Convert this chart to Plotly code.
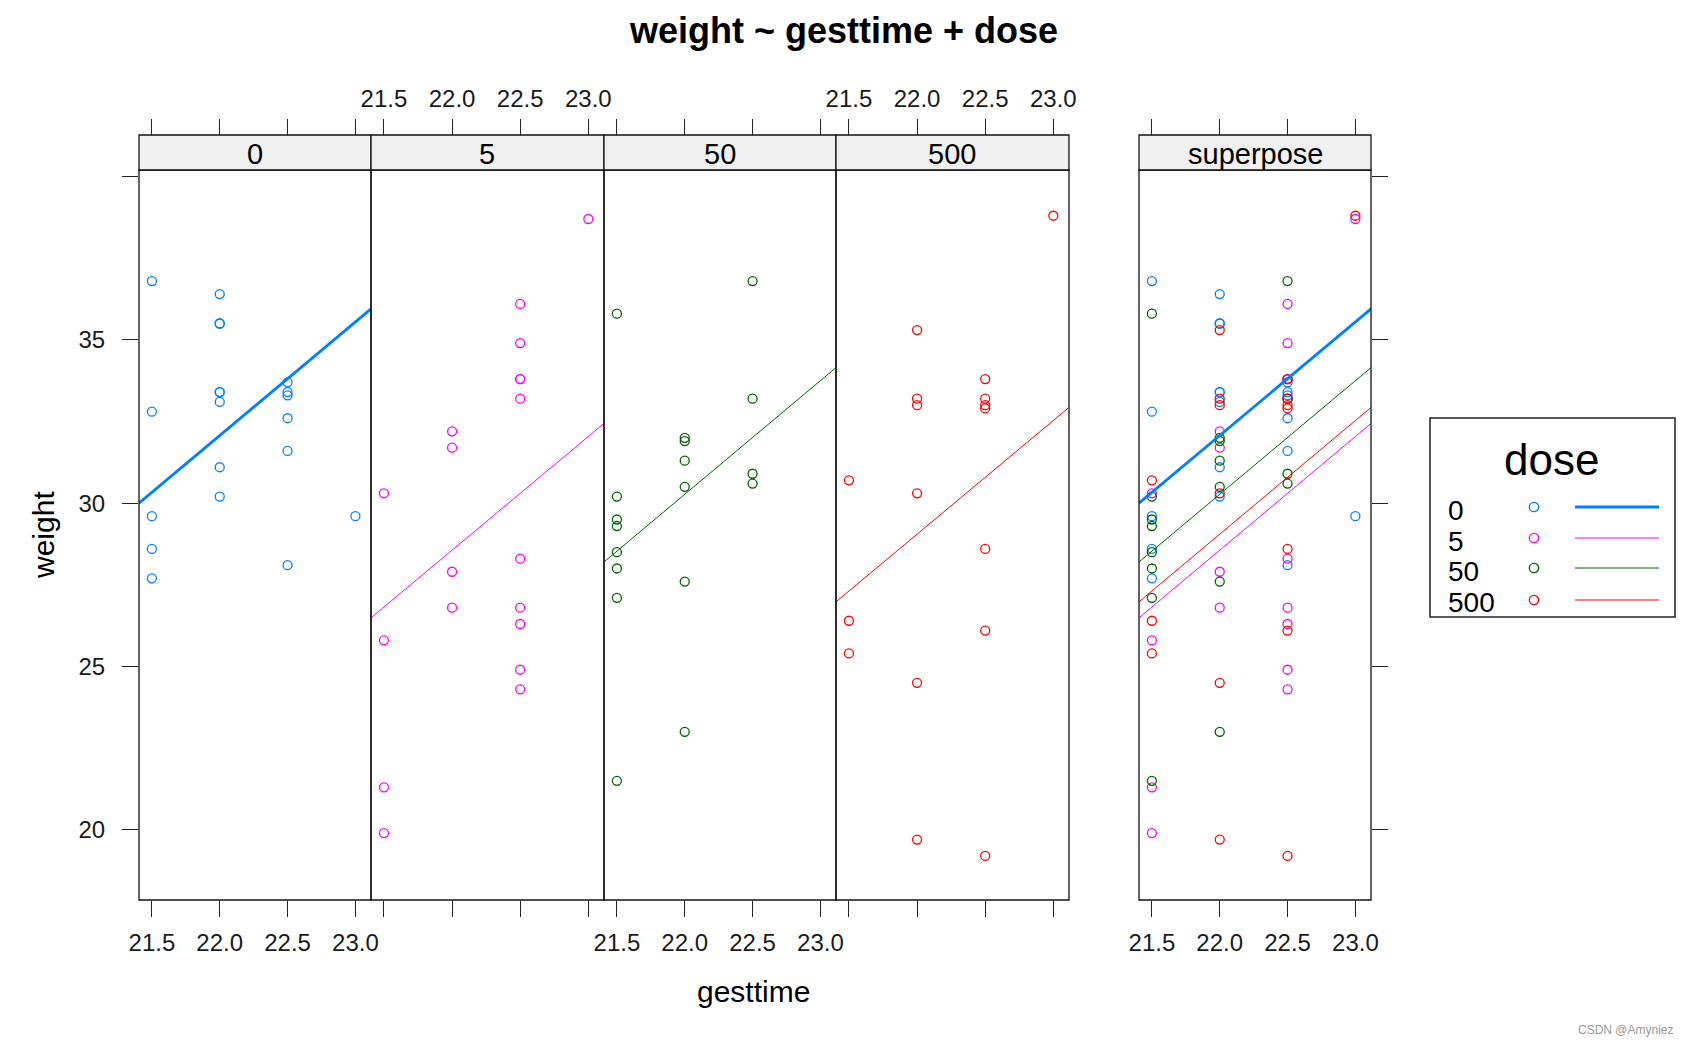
import plotly.graph_objects as go

W, H = 1688, 1046

# ---------------- data ----------------
doses = ["0", "5", "50", "500"]
colors = ["#0080ff", "#ff00ff", "#006400", "#ff0000"]

gest_0 = [21.5, 21.5, 21.5, 21.5, 21.5,
          22.0, 22.0, 22.0, 22.0, 22.0, 22.0, 22.0, 22.0,
          22.5, 22.5, 22.5, 22.5, 22.5, 22.5,
          23.0]
weight_0 = [36.8, 32.8, 29.6, 28.6, 27.7,
            36.4, 35.5, 35.5, 33.4, 33.4, 33.1, 31.1, 30.2,
            33.7, 33.4, 33.3, 32.6, 31.6, 28.1,
            29.6]

gest_5 = [21.5, 21.5, 21.5, 21.5,
          22.0, 22.0, 22.0, 22.0,
          22.5, 22.5, 22.5, 22.5, 22.5, 22.5, 22.5, 22.5, 22.5, 22.5,
          23.0]
weight_5 = [30.3, 25.8, 21.3, 19.9,
            32.2, 31.7, 27.9, 26.8,
            36.1, 34.9, 33.8, 33.8, 33.2, 28.3, 26.8, 26.3, 24.9, 24.3,
            38.7]

gest_50 = [21.5, 21.5, 21.5, 21.5, 21.5, 21.5, 21.5, 21.5,
           22.0, 22.0, 22.0, 22.0, 22.0, 22.0,
           22.5, 22.5, 22.5, 22.5]
weight_50 = [35.8, 30.2, 29.5, 29.3, 28.5, 28.0, 27.1, 21.5,
             32.0, 31.9, 31.3, 30.5, 27.6, 23.0,
             36.8, 33.2, 30.9, 30.6]

gest_500 = [21.5, 21.5, 21.5,
            22.0, 22.0, 22.0, 22.0, 22.0, 22.0,
            22.5, 22.5, 22.5, 22.5, 22.5, 22.5, 22.5,
            23.0]
weight_500 = [30.7, 26.4, 25.4,
              35.3, 33.2, 33.0, 30.3, 24.5, 19.7,
              33.8, 33.2, 33.0, 32.9, 28.6, 26.1, 19.2,
              38.8]

gest_by_dose = [gest_0, gest_5, gest_50, gest_500]
weight_by_dose = [weight_0, weight_5, weight_50, weight_500]

# ANCOVA fitted lines (parallel): fitted weight at gesttime 21.5, common slope
fit_at_21_5 = [30.33, 26.82, 28.53, 27.31]
common_slope = 3.48

strip_labels = ["0", "5", "50", "500", "superpose"]
xtick_vals = [21.5, 22.0, 22.5, 23.0]
xtick_text = ["21.5", "22.0", "22.5", "23.0"]
ytick_vals = [20, 25, 30, 35, 40]
ytick_text = ["20", "25", "30", "35", ""]
x_range = [21.405, 23.115]
y_range = [17.85, 40.2]

# ---------------- layout geometry (pixels) ----------------
FONT = "Liberation Sans, Arial, sans-serif"
panels_px = [(139, 371), (371, 604), (604, 836), (836, 1069), (1139, 1371)]
panel_top, panel_bottom, strip_top = 170, 900, 135
bottom_labels = [True, False, True, False, True]


def fx(px):
    return px / W


def fy(py):
    return 1 - py / H


line_widths = [2.8, 1, 1, 1]

fig = go.Figure()


def fit_line(d):
    xs = list(x_range)
    ys = [fit_at_21_5[d] + common_slope * (x - 21.5) for x in xs]
    return xs, ys


marker_size = 9
marker_lw = 1.3

# individual panels
for d in range(4):
    xa = "x" if d == 0 else f"x{d + 1}"
    fig.add_trace(go.Scatter(
        x=gest_by_dose[d], y=weight_by_dose[d], mode="markers",
        marker=dict(symbol="circle-open", size=marker_size, color=colors[d],
                    line=dict(width=marker_lw, color=colors[d])),
        xaxis=xa, yaxis="y", showlegend=False, hoverinfo="x+y"))
    lx, ly = fit_line(d)
    fig.add_trace(go.Scatter(
        x=lx, y=ly, mode="lines", line=dict(color=colors[d], width=line_widths[d]),
        xaxis=xa, yaxis="y", showlegend=False, hoverinfo="skip"))

# superpose panel
for d in range(4):
    fig.add_trace(go.Scatter(
        x=gest_by_dose[d], y=weight_by_dose[d], mode="markers",
        marker=dict(symbol="circle-open", size=marker_size, color=colors[d],
                    line=dict(width=marker_lw, color=colors[d])),
        xaxis="x5", yaxis="y2", showlegend=False, hoverinfo="x+y"))
for d in [3, 1, 2, 0]:
    lx, ly = fit_line(d)
    fig.add_trace(go.Scatter(
        x=lx, y=ly, mode="lines", line=dict(color=colors[d], width=line_widths[d]),
        xaxis="x5", yaxis="y2", showlegend=False, hoverinfo="skip"))

# dummy traces on top overlay axes
for i in range(5):
    fig.add_trace(go.Scatter(x=[None], y=[None], xaxis=f"x{i + 6}",
                             yaxis="y" if i < 4 else "y2",
                             showlegend=False, hoverinfo="skip"))

layout = dict(
    width=W, height=H, margin=dict(l=0, r=0, t=0, b=0, autoexpand=False),
    paper_bgcolor="white", plot_bgcolor="white",
    font=dict(family=FONT, color="black"),
    showlegend=False,
)

tickfont = dict(family=FONT, size=24, color="#1a1a1a")
ydom = [fy(panel_bottom), fy(panel_top)]

for i, (x0, x1) in enumerate(panels_px):
    key = "xaxis" if i == 0 else f"xaxis{i + 1}"
    layout[key] = dict(
        domain=[fx(x0), fx(x1)], range=x_range, anchor="y" if i < 4 else "y2",
        showgrid=False, zeroline=False, showline=False,
        tickmode="array", tickvals=xtick_vals, ticktext=xtick_text,
        ticks="outside", ticklen=16, tickwidth=1.2, tickcolor="#222",
        showticklabels=bottom_labels[i], tickfont=tickfont,
        ticklabelstandoff=5, fixedrange=True,
    )
    main = "x" if i == 0 else f"x{i + 1}"
    layout[f"xaxis{i + 6}"] = dict(
        overlaying=main, anchor="free", position=fy(strip_top), side="top",
        range=x_range, showgrid=False, zeroline=False, showline=False,
        tickmode="array", tickvals=xtick_vals, ticktext=xtick_text,
        ticks="outside", ticklen=16, tickwidth=1.2, tickcolor="#222",
        showticklabels=not bottom_labels[i], tickfont=tickfont,
        ticklabelstandoff=2, fixedrange=True,
    )

layout["yaxis"] = dict(
    domain=ydom, range=y_range, anchor="x",
    showgrid=False, zeroline=False, showline=False,
    tickmode="array", tickvals=ytick_vals, ticktext=ytick_text,
    ticks="outside", ticklen=16, tickwidth=1.2, tickcolor="#222",
    tickfont=tickfont, ticklabelstandoff=12, fixedrange=True,
)
layout["yaxis2"] = dict(
    domain=ydom, range=y_range, anchor="x5", side="right", matches="y",
    showgrid=False, zeroline=False, showline=False,
    tickmode="array", tickvals=ytick_vals, ticktext=ytick_text,
    ticks="outside", ticklen=16, tickwidth=1.2, tickcolor="#222",
    showticklabels=False, fixedrange=True,
)

shapes = []
annotations = []
for i, (x0, x1) in enumerate(panels_px):
    shapes.append(dict(type="rect", xref="paper", yref="paper",
                       x0=fx(x0), x1=fx(x1), y0=fy(panel_bottom), y1=fy(panel_top),
                       line=dict(color="#111", width=1.3), layer="above"))
    shapes.append(dict(type="rect", xref="paper", yref="paper",
                       x0=fx(x0), x1=fx(x1), y0=fy(panel_top), y1=fy(strip_top),
                       fillcolor="#f0f0f0", line=dict(color="#111", width=1.3)))
    annotations.append(dict(text=strip_labels[i], xref="paper", yref="paper",
                            x=fx((x0 + x1) / 2), y=fy((panel_top + strip_top) / 2 + 1),
                            showarrow=False, xanchor="center", yanchor="middle",
                            font=dict(family=FONT, size=29, color="black")))

# titles
annotations.append(dict(text="<b>weight ~ gesttime + dose</b>", xref="paper", yref="paper",
                        x=fx(843), y=fy(31), showarrow=False,
                        xanchor="center", yanchor="middle",
                        font=dict(family=FONT, size=36, color="black")))
annotations.append(dict(text="gesttime", xref="paper", yref="paper",
                        x=fx(753), y=fy(991), showarrow=False,
                        xanchor="center", yanchor="middle",
                        font=dict(family=FONT, size=30, color="black")))
annotations.append(dict(text="weight", xref="paper", yref="paper",
                        x=fx(43), y=fy(535), showarrow=False, textangle=-90,
                        xanchor="center", yanchor="middle",
                        font=dict(family=FONT, size=30, color="black")))

# legend (key) box
shapes.append(dict(type="rect", xref="paper", yref="paper",
                   x0=fx(1430), x1=fx(1675), y0=fy(617), y1=fy(418),
                   line=dict(color="#222", width=1.5), fillcolor="white"))
annotations.append(dict(text="dose", xref="paper", yref="paper",
                        x=fx(1551), y=fy(459), showarrow=False,
                        xanchor="center", yanchor="middle",
                        font=dict(family=FONT, size=44, color="black")))
label_y = [510, 541, 571, 602]
sym_y = [507, 538, 568, 600]
for d in range(4):
    annotations.append(dict(text=doses[d], xref="paper", yref="paper",
                            x=fx(1446), y=fy(label_y[d]), showarrow=False,
                            xanchor="left", yanchor="middle",
                            font=dict(family=FONT, size=28, color="black")))
    shapes.append(dict(type="circle", xref="paper", yref="paper",
                       xsizemode="pixel", ysizemode="pixel",
                       xanchor=fx(1534), yanchor=fy(sym_y[d]),
                       x0=-4.7, x1=4.7, y0=-4.7, y1=4.7,
                       line=dict(color=colors[d], width=1.3)))
    shapes.append(dict(type="line", xref="paper", yref="paper",
                       x0=fx(1575), x1=fx(1659), y0=fy(sym_y[d]), y1=fy(sym_y[d]),
                       line=dict(color=colors[d], width=line_widths[d])))

annotations.append(dict(text="CSDN @Amyniez", xref="paper", yref="paper",
                        x=fx(1626), y=fy(1030), showarrow=False,
                        xanchor="center", yanchor="middle",
                        font=dict(family=FONT, size=12, color="#999")))

layout["shapes"] = shapes
layout["annotations"] = annotations
fig.update_layout(**layout)

fig.write_html("out.html")
